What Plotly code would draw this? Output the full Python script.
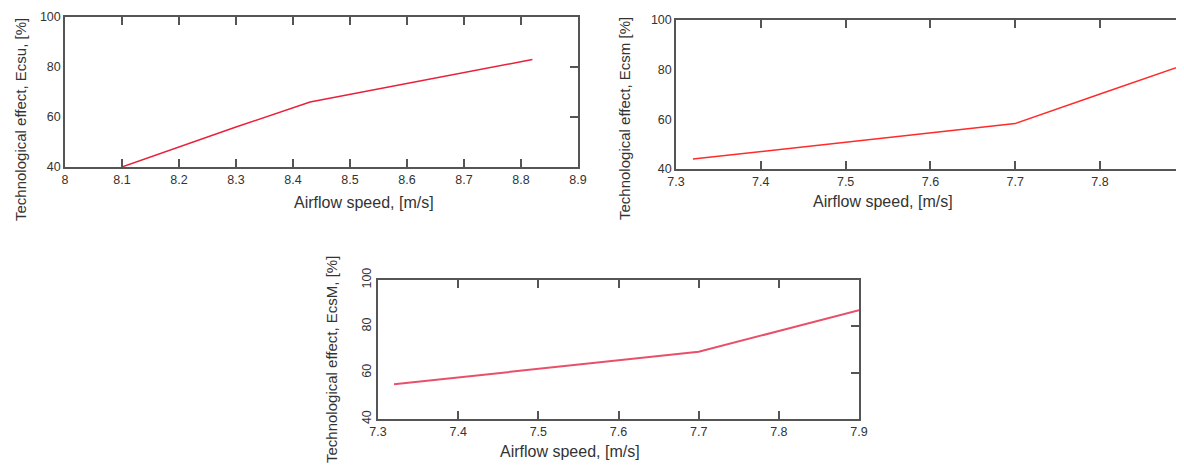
import plotly.graph_objects as go

# page is 1184x472; the html body has an 8px margin, so the figure is drawn
# 8px in from the top-left corner
PAGE_W, PAGE_H, OFF = 1184, 472, 8
W, H = PAGE_W - OFF, PAGE_H - OFF

# ---------------- data ----------------
su_speed = [8.10, 8.20, 8.30, 8.43, 8.50, 8.60, 8.70, 8.82]
su_effect = [40.0, 48.0, 56.0, 66.0, 69.0, 73.4, 77.8, 83.0]

sm_speed = [7.32, 7.40, 7.50, 7.60, 7.70, 7.80, 7.90]
sm_effect = [44.0, 47.0, 50.8, 54.5, 58.3, 70.2, 82.0]

sM_speed = [7.32, 7.40, 7.50, 7.60, 7.70, 7.80, 7.90]
sM_effect = [55.0, 57.9, 61.7, 65.3, 69.0, 78.0, 87.0]

su_xticks = [8.0, 8.1, 8.2, 8.3, 8.4, 8.5, 8.6, 8.7, 8.8, 8.9]
sm_xticks = [7.3, 7.4, 7.5, 7.6, 7.7, 7.8]
sM_xticks = [7.3, 7.4, 7.5, 7.6, 7.7, 7.8, 7.9]
y_ticks = [40, 60, 80, 100]

x_title = "Airflow speed, [m/s]"
y_titles = ["Technological effect, Ecsu, [%]",
            "Technological effect, Ecsm [%]",
            "Technological effect, EcsM, [%]"]

# ---------------- layout helpers (page pixel -> paper fraction) ----------------
def px_x(p):
    return min(1.0, max(0.0, (p - OFF) / W))

def px_y(p):
    return min(1.0, max(0.0, 1 - (p - OFF) / H))

AXC = "#555555"
TXT = "#333333"
tick_font = dict(family="Liberation Sans, Arial, sans-serif", size=12.5, color=TXT)
xtitle_font = dict(family="Liberation Sans, Arial, sans-serif", size=16, color=TXT)
ytitle_font = dict(family="Liberation Sans, Arial, sans-serif", size=15, color=TXT)

# pixel boxes on the page: (left, right, top, bottom)
boxes = [(65, 578, 17, 167), (676, 1184, 20, 169), (378, 859, 280, 419)]
xranges = [[8.0, 8.9], [7.3, 7.899], [7.3, 7.9]]
xticks = [su_xticks, sm_xticks, sM_xticks]
series = [(su_speed, su_effect, "#e8203a", 1.4),
          (sm_speed, sm_effect, "#ff2a2a", 1.4),
          (sM_speed, sM_effect, "#e8506a", 2.0)]

fig = go.Figure()
layout = {}
for i, ((l, r, t, b), xr, xt, (xs, ys, col, lw)) in enumerate(zip(boxes, xranges, xticks, series)):
    n = i + 1
    xa = "x" if n == 1 else f"x{n}"
    ya = "y" if n == 1 else f"y{n}"
    yr_name = f"y{n + 3}"
    fig.add_trace(go.Scatter(x=xs, y=ys, mode="lines", xaxis=xa, yaxis=ya,
                             line=dict(color=col, width=lw), showlegend=False,
                             hoverinfo="skip"))
    # invisible trace so the right-hand tick axis is drawn
    fig.add_trace(go.Scatter(x=xs, y=ys, mode="lines", xaxis=xa, yaxis=yr_name,
                             line=dict(color="rgba(0,0,0,0)", width=0), showlegend=False,
                             hoverinfo="skip"))
    layout[f"xaxis{'' if n == 1 else n}"] = dict(
        domain=[px_x(l), px_x(r)], anchor=ya, range=xr, automargin=False,
        tickvals=xt, ticktext=[f"{v:g}" for v in xt],
        ticks="inside", ticklen=8, tickwidth=1.5, tickcolor=AXC,
        mirror="ticks", showline=True, linecolor=AXC, linewidth=1.5,
        showgrid=False, zeroline=False, tickfont=tick_font,
    )
    layout[f"yaxis{'' if n == 1 else n}"] = dict(
        domain=[px_y(b), px_y(t)], anchor=xa, range=[40, 100], automargin=False,
        tickvals=y_ticks, ticks="", mirror=True, showline=True,
        linecolor=AXC, linewidth=1.5, showgrid=False, zeroline=False,
        tickfont=tick_font, tickangle=(-90 if n == 3 else 0),
    )
    layout[f"yaxis{n + 3}"] = dict(
        overlaying=ya, side="right", anchor=xa, range=[40, 100], automargin=False,
        tickvals=y_ticks, ticks="inside", ticklen=8, tickwidth=1.5,
        tickcolor=AXC, showticklabels=False, showline=False,
        showgrid=False, zeroline=False,
    )

annotations = []
title_pos = [((364, 202), (20, 120)), ((883, 201), (624, 119)), ((570, 451), (331, 360))]
for (xp, yp), yt in zip(title_pos, y_titles):
    annotations.append(dict(text=x_title, xref="paper", yref="paper",
                            x=px_x(xp[0]), y=px_y(xp[1]), xanchor="center",
                            yanchor="middle", showarrow=False, font=xtitle_font))
    annotations.append(dict(text=yt, xref="paper", yref="paper",
                            x=px_x(yp[0]), y=px_y(yp[1]), xanchor="center",
                            yanchor="middle", textangle=-90, showarrow=False,
                            font=ytitle_font))

fig.update_layout(width=W, height=H, margin=dict(l=0, r=0, t=0, b=0, autoexpand=False),
                  paper_bgcolor="white", plot_bgcolor="white",
                  annotations=annotations, **layout)

fig.write_html("out.html")
